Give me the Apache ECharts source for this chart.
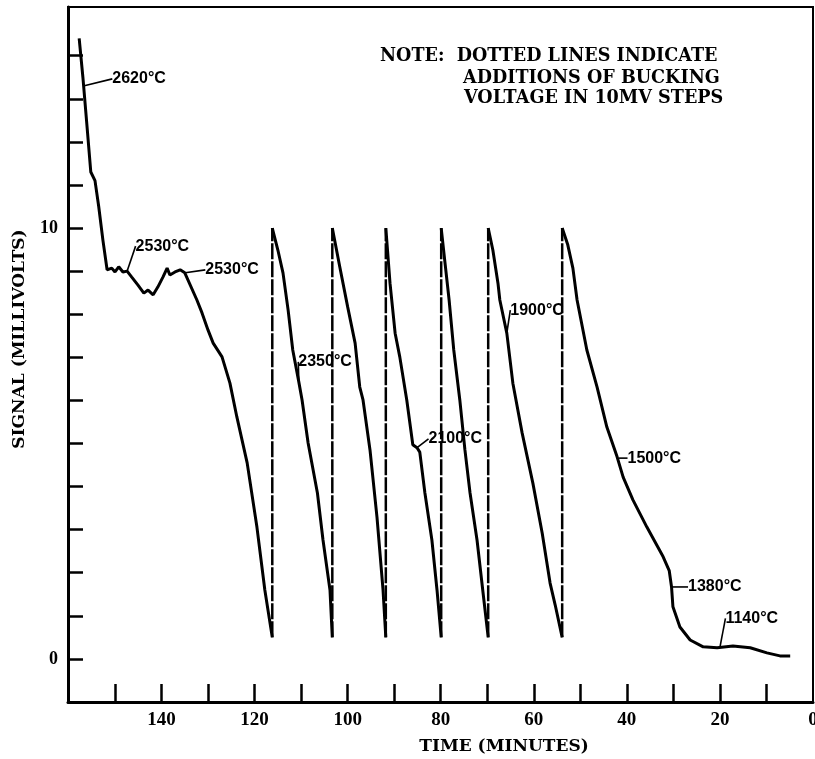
<!DOCTYPE html>
<html>
<head>
<meta charset="utf-8">
<script src="https://cdn.jsdelivr.net/npm/echarts@6/dist/echarts.min.js"></script>
<style>
html, body { margin: 0; padding: 0; background: #fff; }
#chart { width: 815px; height: 759px; }
</style>
</head>
<body>
<div id="chart"></div>
<script>
// time (minutes) / signal (mV)
var sweep0 = [[157.7,14.4],[156.9,13.5],[156.0,12.34],[155.2,11.3],[154.3,11.1],[153.5,10.5],[152.6,9.72],[151.7,9.03],
    [150.7,9.07],[150.0,8.98],[149.2,9.1],[148.3,8.98],[147.4,9.0],[146.4,8.86],[145.1,8.68],[143.8,8.49],[142.9,8.56],
    [141.8,8.45],[140.8,8.63],[139.7,8.86],[138.8,9.07],[138.2,8.91],[137.1,8.98],[136.0,9.03],[135.0,8.96],[132.4,8.33],
    [131.3,8.03],[130.0,7.63],[128.9,7.33],[127.0,7.01],[125.3,6.4],[123.8,5.61],[121.6,4.55],[119.5,3.06],[117.8,1.6],[116.2,0.5]]
var sweep1 = [[116.2,10.0],[115.0,9.49],[113.9,8.96],[112.8,8.1],[111.8,7.17],[110.5,6.43],[109.8,6.01],[108.5,5.01],
    [106.5,3.85],[105.3,2.76],[103.8,1.6],[103.3,0.5]]
var sweep2 = [[103.3,10.0],[101.7,9.1],[100.0,8.17],[98.4,7.33],[97.4,6.31],[96.7,6.01],[95.2,4.85],[93.7,3.29],[92.4,1.6],[91.8,0.5]]
var sweep3 = [[91.8,10.0],[90.9,8.72],[89.8,7.56],[88.8,7.01],[87.3,6.01],[86.0,4.97],[85.1,4.9],[84.5,4.8],[83.4,3.85],
    [81.9,2.76],[80.8,1.6],[79.9,0.5]]
var sweep4 = [[79.9,10.0],[79.1,9.21],[78.2,8.33],[77.2,7.17],[75.9,6.01],[74.8,4.85],[73.7,3.85],[72.2,2.76],[70.9,1.53],[69.8,0.5]]
var sweep5 = [[69.8,10.0],[68.8,9.49],[67.7,8.72],[67.3,8.33],[65.8,7.56],[64.5,6.4],[62.5,5.24],[60.2,4.08],[58.2,2.92],
    [56.5,1.76],[55.4,1.25],[53.9,0.5]]
var sweep6 = [[53.9,10.0],[52.7,9.61],[51.6,9.07],[50.7,8.33],[48.6,7.17],[46.4,6.31],[44.3,5.38],[42.1,4.69],[40.8,4.22],
    [38.7,3.69],[35.7,3.06],[32.2,2.37],[30.9,2.05],[30.4,1.67],[30.1,1.21],[28.6,0.74],[26.4,0.44],[23.6,0.28],[20.6,0.26],
    [17.2,0.3],[13.5,0.26],[9.9,0.14],[7.1,0.07],[4.9,0.07]]

var annoText = ['2620°C', '2530°C', '2530°C', '2350°C', '2100°C', '1900°C', '1500°C', '1380°C', '1140°C']
var annoAt = [[156.7,13.3],[147.4,9.0],[135.0,8.96],[110.5,6.43],[85.1,4.9],[65.8,7.56],[41.9,4.66],[30.4,1.67],[20.0,0.27]]

var xTicks = [10, 20, 30, 40, 50, 60, 70, 80, 90, 100, 110, 120, 130, 140, 150]
var xLabels = [0, 20, 40, 60, 80, 100, 120, 140]
var yTicks = [0, 1, 2, 3, 4, 5, 6, 7, 8, 9, 10, 11, 12, 13, 14]
var yLabels = [0, 10]

// label offsets in px (dx, dy) from the point on the curve
var annoShift = [[28,-7],[8,-25],[20,-3],[-1,-20],[11,-9],[3,-23],[9,0],[16,0],[5,-29]]

var sweeps = [sweep0, sweep1, sweep2, sweep3, sweep4, sweep5, sweep6]

var serif = 'DejaVu Serif'
var chart = echarts.init(document.getElementById('chart'))

var series = []
sweeps.forEach(function (s) {
    series.push({
        type: 'line',
        data: s,
        symbol: 'none',
        z: 4,
        lineStyle: { color: '#000', width: 3 },
        silent: true
    })
})
// bucking voltage steps (dotted verticals)
for (var k = 0; k < sweeps.length - 1; k++) {
    series.push({
        type: 'line',
        data: [sweeps[k][sweeps[k].length - 1], sweeps[k + 1][0]],
        symbol: 'none',
        z: 3,
        lineStyle: { color: '#000', width: 2.5, type: [16, 2] },
        silent: true
    })
}
series.push({
    type: 'scatter',
    data: annoAt.map(function (p, i) { return { name: annoText[i], value: p } }),
    symbolSize: 1,
    itemStyle: { color: 'rgba(0,0,0,0)', opacity: 1 },
    z: 5,
    label: {
        show: true,
        position: 'right',
        distance: 0,
        formatter: '{b}',
        fontFamily: 'Liberation Sans',
        fontWeight: 'bold',
        fontSize: 16,
        color: '#000',
        opacity: 1
    },
    labelLine: {
        show: true,
        lineStyle: { color: '#000', width: 1.6, opacity: 1 }
    },
    labelLayout: function (params) {
        var d = annoShift[params.dataIndex]
        return { dx: d[0], dy: d[1] }
    }
})

chart.setOption({
    animation: false,
    grid: {
        left: 68,
        right: 2,
        top: 7,
        bottom: 57,
        outerBoundsMode: 'none',
        show: true,
        borderColor: '#000',
        borderWidth: 2
    },
    xAxis: {
        type: 'value',
        min: 0,
        max: 160.1,
        inverse: true,
        splitLine: { show: false },
        axisLine: { onZero: false, lineStyle: { color: '#000', width: 3 } },
        axisTick: { inside: true, length: 18, customValues: xTicks, lineStyle: { color: '#000', width: 2.5 } },
        axisLabel: {
            customValues: xLabels,
            margin: 9,
            fontFamily: 'Liberation Serif',
            fontWeight: 'bold',
            fontSize: 19,
            color: '#000'
        }
    },
    yAxis: {
        type: 'value',
        min: -1,
        max: 15.13,
        splitLine: { show: false },
        axisLine: { onZero: false, lineStyle: { color: '#000', width: 3 } },
        axisTick: { inside: true, length: 15, customValues: yTicks, lineStyle: { color: '#000', width: 2.5 } },
        axisLabel: {
            customValues: yLabels,
            margin: 10,
            fontFamily: 'Liberation Serif',
            fontWeight: 'bold',
            fontSize: 18,
            color: '#000'
        }
    },
    graphic: [
        {
            type: 'text', x: 20, y: 339, rotation: Math.PI / 2,
            style: { text: 'SIGNAL (MILLIVOLTS)', fontFamily: serif, fontWeight: 'bold', fontSize: 17, fill: '#000',
                align: 'center', verticalAlign: 'middle', textAlign: 'center', textVerticalAlign: 'middle' }
        },
        {
            type: 'text', x: 504, y: 747,
            style: { text: 'TIME (MINUTES)', fontFamily: serif, fontWeight: 'bold', fontSize: 17, fill: '#000',
                align: 'center', verticalAlign: 'middle', textAlign: 'center', textVerticalAlign: 'middle' }
        },
        {
            type: 'text', x: 380, y: 56,
            style: { text: 'NOTE:  DOTTED LINES INDICATE', fontFamily: serif, fontWeight: 'bold', fontSize: 17.6, fill: '#000',
                verticalAlign: 'middle', textVerticalAlign: 'middle' }
        },
        {
            type: 'text', x: 463, y: 78,
            style: { text: 'ADDITIONS OF BUCKING', fontFamily: serif, fontWeight: 'bold', fontSize: 17.6, fill: '#000',
                verticalAlign: 'middle', textVerticalAlign: 'middle' }
        },
        {
            type: 'text', x: 464, y: 98,
            style: { text: 'VOLTAGE IN 10MV STEPS', fontFamily: serif, fontWeight: 'bold', fontSize: 17.6, fill: '#000',
                verticalAlign: 'middle', textVerticalAlign: 'middle' }
        }
    ],
    series: series
})
</script>
</body>
</html>
